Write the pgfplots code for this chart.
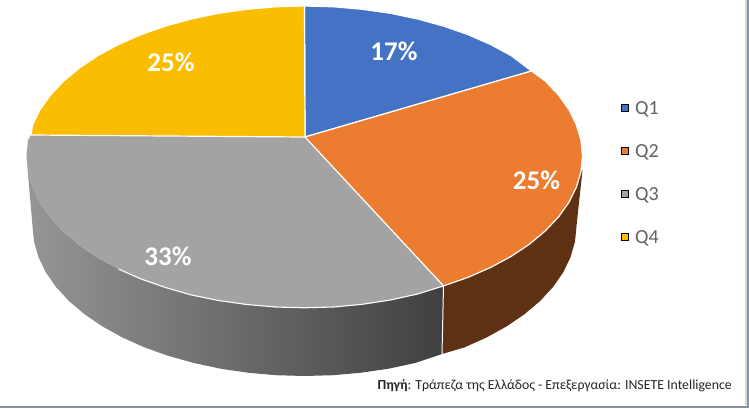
\documentclass[border=0pt]{standalone}
\usepackage{fontspec}
\setmainfont{Carlito}
\usepackage{pgfplots}
\pgfplotsset{compat=1.18}
\definecolor{qone}{HTML}{4472C4}
\definecolor{qtwo}{HTML}{EB7C30}
\definecolor{qthree}{HTML}{A3A3A3}
\definecolor{qfour}{HTML}{FBBD00}
\definecolor{brownside}{HTML}{5F3114}
\definecolor{framec}{HTML}{8792A6}
\definecolor{framel}{HTML}{D9D9D9}
\definecolor{legtext}{HTML}{636363}
\begin{document}
\begin{tikzpicture}
\begin{axis}[
  width=749pt,height=408pt,scale only axis,
  xmin=0,xmax=749,ymin=0,ymax=408,y dir=reverse,
  axis lines=none,clip=true,
]
% background and frame
\addplot[fill=white,draw=none] coordinates {(0,0)(749,0)(749,408)(0,408)} --cycle;
\addplot[fill=framel,draw=none] coordinates {(745,0)(747,0)(747,405)(745,405)} --cycle;
\addplot[fill=framec,draw=none] coordinates {(747,0)(749,0)(749,408)(747,408)} --cycle;
\addplot[fill=framec,draw=none] coordinates {(0,406)(749,406)(749,408)(0,408)} --cycle;
% side, Q2 (brown)
\addplot[fill=brownside,draw=none] coordinates {
(582.5,170)(581,171.7)(576.4,187.2)(568.9,202.4)(558.5,217)(545.2,231)(529.4,244.2)(511.1,256.4)(490.5,267.5)(467.9,277.4)(443.5,285.9)
(442,354)(464.4,347.4)(486.5,337.5)(506.6,326.4)(524.5,314.2)(540.1,301)(553,287)(563.2,272.4)(570.5,257.2)(575,241.7)(576.5,226)
} --cycle;
% side, Q3 (grey gradient)
\addplot[left color=qthree!92!black,right color=black!75,draw=none] coordinates {
(443.5,285.9)(417.6,294)(390.4,300)(362.3,304.3)(333.55,307)(304.5,307.8)(275.45,307)(246.7,304.5)(218.6,300.5)(191.4,295)(165.5,287.5)(141.1,279)(118.5,269)(97.9,258)(79.6,245.5)(63.8,232)(50.5,218)(40.1,203)(32.6,187.2)(28,171.7)(26.5,156)
(32.5,226)(34,241.7)(38.5,257.2)(45.8,272.4)(56,287)(68.9,301)(84.5,314.2)(102.4,326.4)(122.5,337.5)(144.6,347.4)(168.5,355.9)(193.9,363)(220.5,368.7)(248,372.7)(276.1,375.2)(304.5,376)(332.9,375.2)(361,372.7)(388.5,368.7)(415.1,363)(442,354)
} --cycle;
\addplot[white,line width=1pt] coordinates {(443.5,286)(442,354)};
% top faces
\addplot[fill=qone,draw=white,line width=1.2pt,line join=round] coordinates {
(305,137)(304.5,6)(333.55,6.8)(362.3,9.3)(390.4,13.3)(417.6,19)(443.5,26.1)(467.9,34.6)(490.5,44.5)(511.1,55.6)(531.5,71)
} --cycle;
\addplot[fill=qthree,draw=none] coordinates {
(305,137)(443.5,285.9)(417.6,294)(390.4,300)(362.3,304.3)(333.55,307)(304.5,307.8)(275.45,307)(246.7,304.5)(218.6,300.5)(191.4,295)(165.5,287.5)(141.1,279)(118.5,269)(97.9,258)(79.6,245.5)(63.8,232)(50.5,218)(40.1,203)(32.6,187.2)(28,171.7)(26.5,156)(28,140.3)(31,135)
} --cycle;
\addplot[white,line width=1.1pt] coordinates {
(443.5,285.9)(417.6,294)(390.4,300)(362.3,304.3)(333.55,307)(304.5,307.8)(275.45,307)(246.7,304.5)(218.6,300.5)(191.4,295)(165.5,287.5)(141.1,279)(118.5,269)
};
\addplot[fill=qtwo,draw=white,line width=1.2pt,line join=round] coordinates {
(305,137)(531.5,71)(545.2,81)(558.5,95)(568.9,109.6)(576.4,124.8)(581,140.3)(582.5,156)(581,171.7)(576.4,187.2)(568.9,202.4)(558.5,217)(545.2,231)(529.4,244.2)(511.1,256.4)(490.5,267.5)(467.9,277.4)(443.5,285.9)
} --cycle;
\addplot[fill=qfour,draw=white,line width=1.2pt,line join=round] coordinates {
(305,137)(31,135)(32.6,124.8)(40.1,109.6)(50.5,95)(63.8,81)(79.6,67.8)(97.9,55.6)(118.5,44.5)(141.1,34.6)(165.5,26.1)(191.4,19)(218.6,13.3)(246.7,9.3)(275.45,6.8)(304.5,6)
} --cycle;
% legend
\addplot[only marks,mark=square*,mark size=3.5pt,mark options={fill=qone,draw=none}] coordinates {(624.5,107.5)};
\addplot[only marks,mark=square*,mark size=3.5pt,mark options={fill=qtwo,draw=none}] coordinates {(624.5,150.5)};
\addplot[only marks,mark=square*,mark size=3.5pt,mark options={fill=qthree,draw=none}] coordinates {(624.5,193.5)};
\addplot[only marks,mark=square*,mark size=3.5pt,mark options={fill=qfour,draw=none}] coordinates {(624.5,237)};
\foreach \t/\y in {Q1/109,Q2/152,Q3/195,Q4/238}{
  \edef\temp{\noexpand\node[anchor=west,inner sep=0pt,text=legtext,font=\noexpand\fontsize{20}{22}\noexpand\selectfont] at (axis cs:635,\y) {\t};}
  \temp
}
% data labels
\node[text=white,font=\fontsize{27}{29}\selectfont\bfseries,inner sep=0pt] at (axis cs:394,51) {17\%};
\node[text=white,font=\fontsize{27}{29}\selectfont\bfseries,inner sep=0pt] at (axis cs:536.5,180) {25\%};
\node[text=white,font=\fontsize{27}{29}\selectfont\bfseries,inner sep=0pt] at (axis cs:168,256) {33\%};
\node[text=white,font=\fontsize{27}{29}\selectfont\bfseries,inner sep=0pt] at (axis cs:171,62) {25\%};
% source
\node[anchor=east,inner sep=0pt,text=black!85,font=\fontsize{13.8}{15}\selectfont] at (axis cs:732,386) {\textbf{Πηγή}: Τράπεζα της Ελλάδος - Επεξεργασία: INSETE Intelligence};
\end{axis}
\end{tikzpicture}
\end{document}
